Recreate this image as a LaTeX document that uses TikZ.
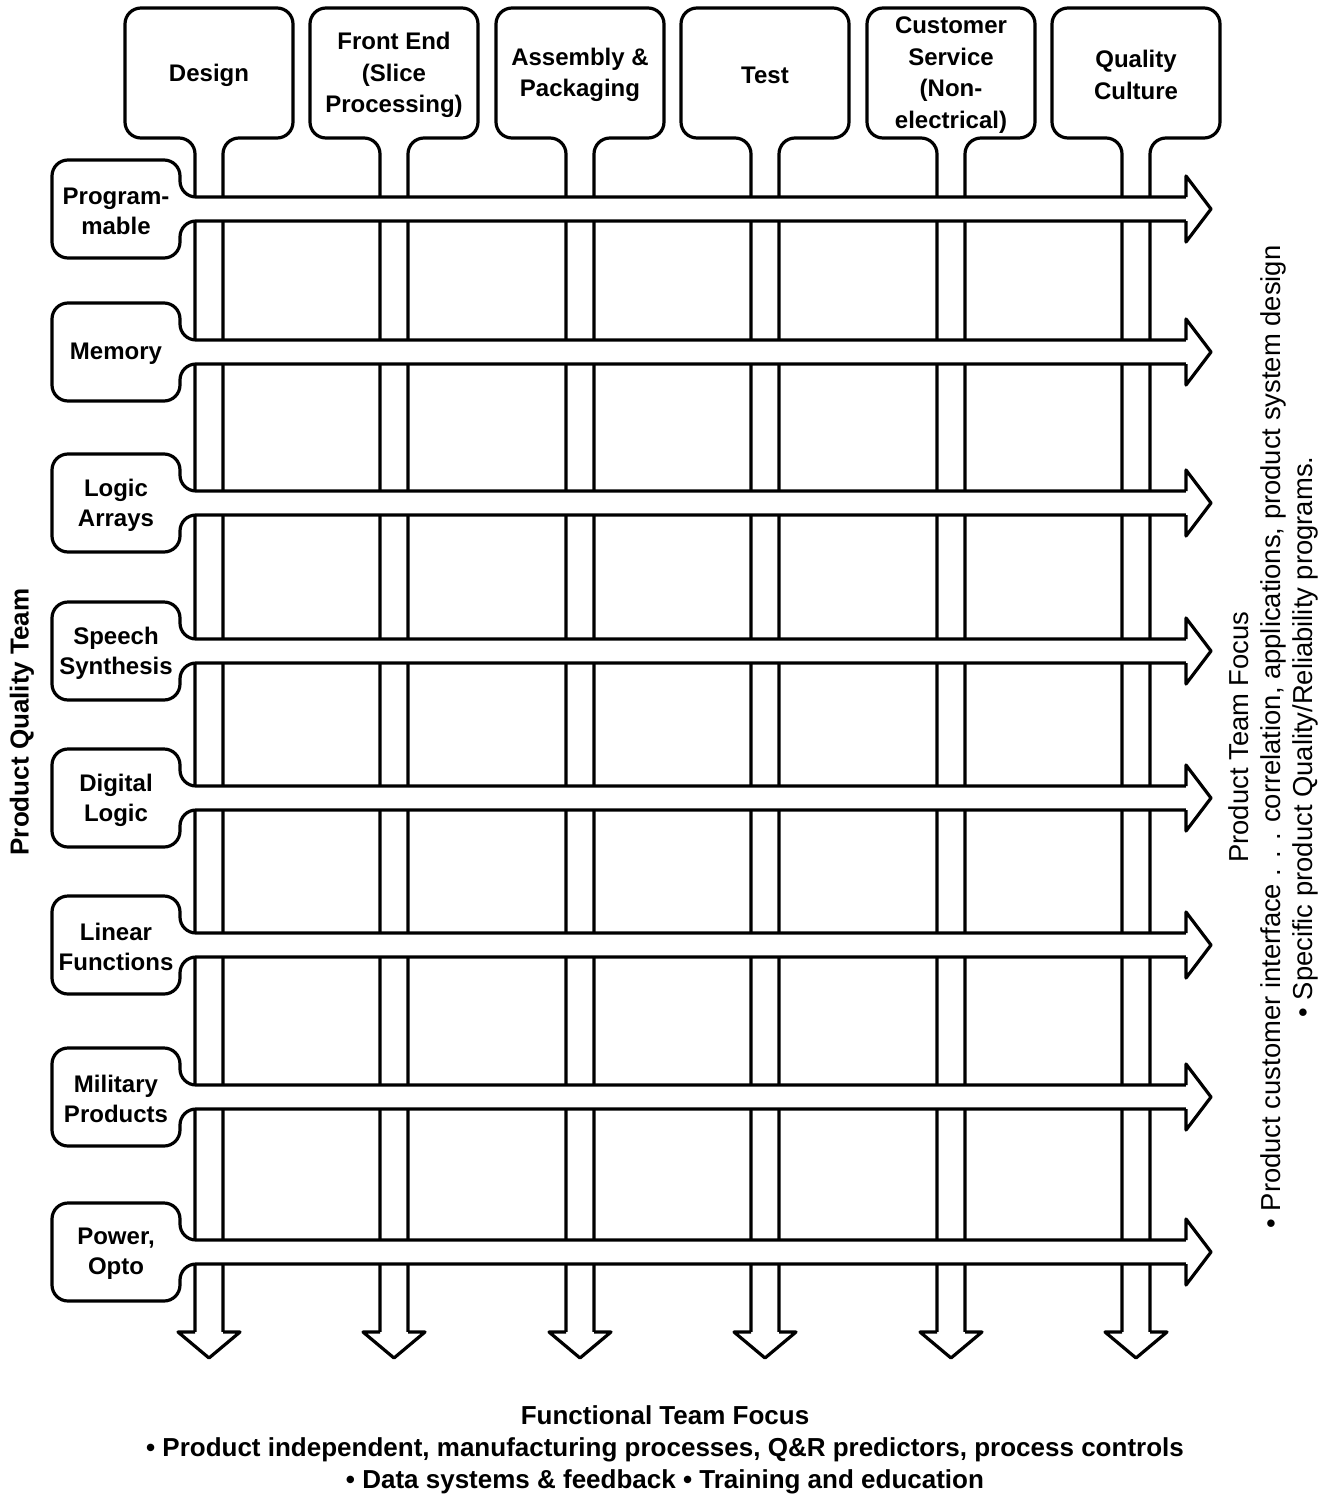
\documentclass[tikz,border=0pt]{standalone}
\usepackage{fontspec}
\setmainfont{Liberation Sans}

\begin{document}
\begin{tikzpicture}[x=0.5pt,y=-0.5pt,line width=1.6pt,line join=round]
\tikzset{
 hd/.style={font=\bfseries\fontsize{12}{15.75}\selectfont,align=center},
 rw/.style={font=\bfseries\fontsize{12}{15}\selectfont,align=center},
 foc/.style={font=\bfseries\fontsize{13}{16}\selectfont,align=center},
 sh/.style={draw,fill=white,rounded corners=8pt},
 hh/.style={draw,fill=white}
}
\useasboundingbox (0,0) rectangle (1337,1499);
% functional teams, going down
\foreach \c/\n/\t in {209/design/Design,394/front/{Front End\\(Slice\\Processing)},580/assy/{Assembly \&\\Packaging},765/test/Test,951/cust/{Customer\\Service\\(Non-\\electrical)},1136/qual/{Quality\\Culture}}{
 \path[sh] (\c-14,1332) -- (\c-14,138) -- (\c-84,138) -- (\c-84,8) -- (\c+84,8) -- (\c+84,138) -- (\c+14,138) -- (\c+14,1332);
 \path[hh] (\c-14,1332) -- (\c-31,1332) -- (\c,1358) -- (\c+31,1332) -- (\c+14,1332);
 \node[hd] (\n) at (\c,75) {\t};
}
% product teams, going right
\foreach \y/\n/\t in {209/prog/{Program-\\mable},352/mem/Memory,503/logic/{Logic\\Arrays},651/speech/{Speech\\Synthesis},798/digital/{Digital\\Logic},945/linear/{Linear\\Functions},1097/mil/{Military\\Products},1252/power/{Power,\\Opto}}{
 \path[sh] (1186,\y-12) -- (180,\y-12) -- (180,\y-49) -- (52,\y-49) -- (52,\y+49) -- (180,\y+49) -- (180,\y+12) -- (1186,\y+12);
 \path[hh] (1186,\y-12) -- (1186,\y-33) -- (1211,\y) -- (1186,\y+33) -- (1186,\y+12);
 \node[rw] (\n) at (116,\y+2) {\t};
}
\node[foc,rotate=90] (pqt) at (22,722) {Product Quality Team};
\node[font=\fontsize{13.7}{16}\selectfont,align=center,rotate=90] (ptf) at (1273,737) {Product Team Focus\\• Product customer interface . . . correlation, applications, product system design\\• Specific product Quality/Reliability programs.};
\node[foc] (ftf) at (665,1450) {Functional Team Focus\\• Product independent, manufacturing processes, Q\&R predictors, process controls\\• Data systems \& feedback • Training and education};
\end{tikzpicture}
\end{document}
